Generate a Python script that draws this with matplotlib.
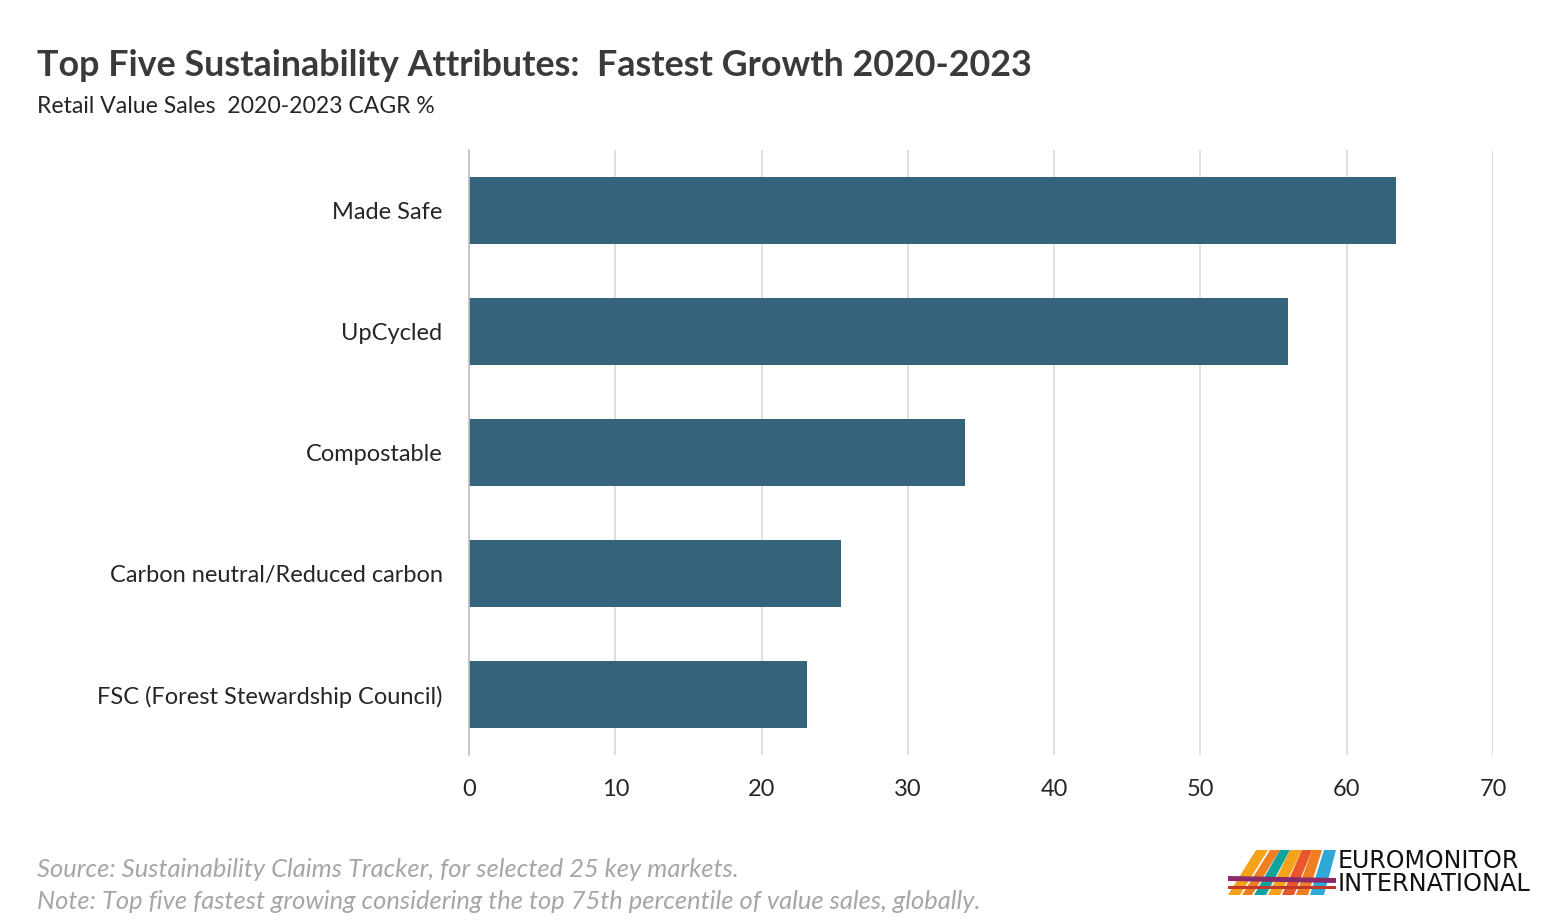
import matplotlib
matplotlib.use("Agg")
import matplotlib.pyplot as plt
from matplotlib.patches import Polygon

categories = ["Made Safe", "UpCycled", "Compostable",
              "Carbon neutral/Reduced carbon", "FSC (Forest Stewardship Council)"]
values = [63.4, 56.0, 33.9, 25.4, 23.1]
xticks = [0, 10, 20, 30, 40, 50, 60, 70]

title = "Top Five Sustainability Attributes:  Fastest Growth 2020-2023"
subtitle = "Retail Value Sales  2020-2023 CAGR %"
source = "Source: Sustainability Claims Tracker, for selected 25 key markets."
note = "Note: Top five fastest growing considering the top 75th percentile of value sales, globally."

plt.rcParams['font.family'] = ['Lato', 'DejaVu Sans']

W, H = 1566, 921
fig = plt.figure(figsize=(W / 100, H / 100), dpi=100)
ax = fig.add_axes([469 / W, 1 - 755 / H, (1493 - 469) / W, (755 - 150) / H])

ypos = list(range(len(categories)))[::-1]
ax.barh(ypos, values, height=0.56, color="#36637c", zorder=3)
ax.set_ylim(-0.5, 4.5)
ax.set_xlim(0, 70)
ax.set_xticks(xticks)
ax.set_yticks(ypos)
ax.set_yticklabels(categories)
ax.tick_params(axis='both', length=0, labelsize=17, colors="#262626")
ax.tick_params(axis='x', pad=17)
ax.tick_params(axis='y', pad=19)
ax.grid(axis='x', color="#d9d9d9", linewidth=1.2, zorder=0)
for s in ['top', 'right', 'bottom']:
    ax.spines[s].set_visible(False)
ax.spines['left'].set_color("#bfbfbf")
ax.spines['left'].set_linewidth(1.2)
ax.spines['left'].set_zorder(4)

fig.text(37 / W, 1 - 66 / H, title, fontsize=25.8, fontweight='bold',
         color="#3a3a3a", va='center', ha='left')
fig.text(37 / W, 1 - 106 / H, subtitle, fontsize=16.6, color="#262626",
         va='center', ha='left')
fig.text(37 / W, 1 - 869 / H, source, fontsize=18.4, style='italic',
         color="#a6a6a6", va='center', ha='left')
fig.text(37 / W, 1 - 901 / H, note, fontsize=18.4, style='italic',
         color="#a6a6a6", va='center', ha='left')

# Logo
lax = fig.add_axes([1228 / W, 1 - 895 / H, (1336 - 1228) / W, (895 - 850) / H])
lax.set_xlim(0, 108)
lax.set_ylim(0, 45)
lax.axis('off')
stripes = [
    ([(0, 0), (12, 0), (40, 45), (28, 45)], "#f7a21b"),
    ([(14, 0), (24, 0), (52, 45), (42, 45)], "#f07f22"),
    ([(26, 0), (38, 0), (62, 45), (52, 45)], "#12a39a"),
    ([(40, 0), (52, 0), (74, 45), (62, 45)], "#f7a21b"),
    ([(54, 0), (66, 0), (84, 45), (74, 45)], "#e8562a"),
    ([(68, 0), (80, 0), (94, 45), (84, 45)], "#f07f22"),
    ([(82, 0), (96, 0), (108, 45), (96, 45)], "#2fa8d8"),
]
for pts, c in stripes:
    lax.add_patch(Polygon(pts, closed=True, color=c, lw=0))
lax.add_patch(Polygon([(0, 14), (108, 12), (108, 17), (0, 19)], closed=True,
                      color="#8b2a6b", lw=0))
lax.add_patch(Polygon([(0, 6), (108, 6), (108, 9), (0, 9)], closed=True,
                      color="#c0392b", lw=0))
fig.text(1338 / W, 1 - 861 / H, "EUROMONITOR", fontsize=17, color="#111111",
         family=['DejaVu Sans'], va='center', ha='left')
fig.text(1338 / W, 1 - 884 / H, "INTERNATIONAL", fontsize=17.3, color="#111111",
         family=['DejaVu Sans'], va='center', ha='left')

fig.savefig("out.png", dpi=100)
